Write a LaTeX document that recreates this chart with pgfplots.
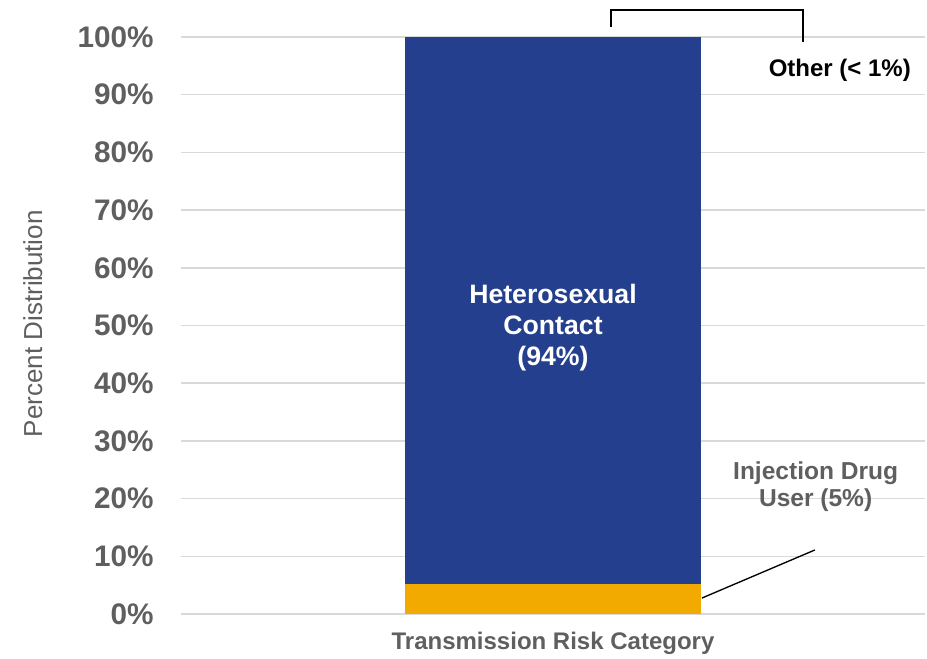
\documentclass[border=0pt]{standalone}
\usepackage{fontspec}
\setmainfont{Liberation Sans}
\usepackage{pgfplots}
\pgfplotsset{compat=1.18}
\definecolor{barblue}{HTML}{233F8E}
\definecolor{baryellow}{HTML}{F2AA00}
\definecolor{txtgrey}{HTML}{5F5F5F}
\definecolor{gridgrey}{HTML}{D9D9D9}
\begin{document}
\begin{tikzpicture}[x=1pt,y=1pt]
\useasboundingbox (0,0) rectangle (695.25,493.5);
\begin{axis}[
  at={(135.75pt,33pt)}, anchor=south west,
  scale only axis,
  width=558pt, height=432.75pt,
  xmin=-1, xmax=1, ymin=0, ymax=100,
  axis line style={draw=none},
  major tick length=0pt,
  xtick=\empty,
  ytick={0,10,...,100},
  yticklabels={0\%,10\%,20\%,30\%,40\%,50\%,60\%,70\%,80\%,90\%,100\%},
  yticklabel style={font=\fontsize{22.3}{26}\selectfont\bfseries, text=txtgrey, xshift=-17pt},
  ymajorgrids, grid style={gridgrey, line width=1.1pt},
  ylabel={Percent Distribution},
  ylabel style={at={(axis description cs:-0.199,0.503)}, anchor=center, rotate=0, font=\fontsize{19.5}{23}\selectfont, text=txtgrey},
  xlabel={Transmission Risk Category},
  xlabel style={at={(axis description cs:0.5,-0.05)}, anchor=center, font=\fontsize{18}{22}\selectfont\bfseries, text=txtgrey},
  ybar stacked, bar width=0.796,
  clip=false,
]
\addplot[fill=baryellow, draw=none] coordinates {(0,5.2)};
\addplot[fill=barblue, draw=none] coordinates {(0,94.8)};
\coordinate (het) at (axis cs:0,49.6);
\coordinate (idu) at (axis cs:0.706,22.1);
\coordinate (oth) at (axis cs:0.771,94.3);
\draw[black, line width=1.2pt] (axis cs:0.156,101.7) -- (axis cs:0.156,104.7) -- (axis cs:0.672,104.7) -- (axis cs:0.672,99.1);
\draw[black, line width=1pt] (axis cs:0.4005,2.77) -- (axis cs:0.704,11.1);
\end{axis}
\node[align=center, text=white, font=\fontsize{20}{23.2}\selectfont\bfseries] at (het) {Heterosexual\\Contact\\(94\%)};
\node[align=center, text=txtgrey, font=\fontsize{18.4}{20.3}\selectfont\bfseries] at (idu) {Injection Drug\\User (5\%)};
\node[text=black, font=\fontsize{18}{20}\selectfont\bfseries] at (oth) {Other (< 1\%)};
\end{tikzpicture}
\end{document}
